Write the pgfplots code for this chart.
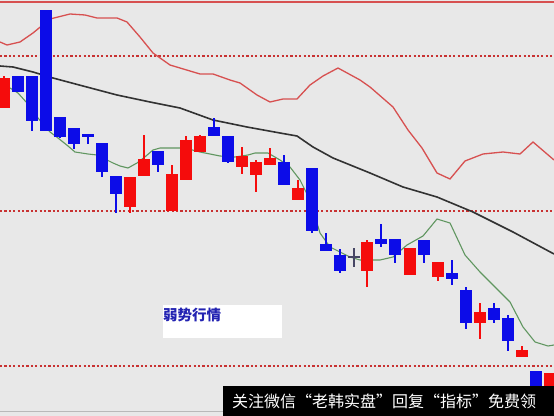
\documentclass[border=0pt]{standalone}
\usepackage{pgfplots}
\pgfplotsset{compat=1.18}
\usepackage{pgfplotstable}
\usepackage{fontspec}
\newfontfamily\cjk{Noto Sans CJK SC}

\definecolor{bgcol}{RGB}{232,232,232}
\definecolor{candred}{RGB}{245,12,12}
\definecolor{candblue}{RGB}{12,12,232}
\definecolor{dojicol}{RGB}{70,70,100}
\definecolor{maGreen}{RGB}{96,150,96}
\definecolor{maBlack}{RGB}{50,50,50}
\definecolor{bandRed}{RGB}{215,80,80}
\definecolor{gridRed}{RGB}{200,50,50}
\definecolor{labelBlue}{RGB}{35,35,178}

% candles in screen units: top/bot = body edges, hi/lo = wick ends
\pgfplotstableread{
x   top bot hi  lo
4   78  108 76  108
130 177 207 177 213
144 159 176 135 176
172 174 211 165 211
186 140 180 136 180
200 136 152 135 152
242 156 167 147 174
256 162 175 160 192
270 158 165 148 165
298 188 200 180 200
367 242 271 240 287
410 248 275 248 275
438 262 277 262 281
480 312 323 303 339
522 350 357 346 357
550 373 398 373 398
}\redcandles

\pgfplotstableread{
x   top bot hi  lo
18  76  92  76  92
32  76  121 76  131
46  10  131 10  131
60  117 137 117 138
74  128 144 128 149
88  134 137 134 144
102 143 172 143 177
116 176 194 176 213
158 151 165 151 172
214 127 136 118 136
228 136 162 136 163
284 162 185 155 185
312 168 231 168 233
326 244 251 233 251
340 255 271 249 273
381 239 244 224 247
395 239 255 239 263
424 240 255 240 263
452 273 279 260 285
466 290 323 287 329
494 308 320 303 323
508 318 341 315 351
536 371 398 371 398
}\bluecandles

\pgfplotstableread{
x   top bot hi  lo
354 256 258 248 267
}\dojicandles

\pgfplotsset{
  body/.style={draw=none, mark=none, forget plot,
    error bars/.cd, y dir=both, y explicit, error mark=none,
    error bar style={line width=11.5bp, draw=#1, line cap=butt}},
  wick/.style={draw=none, mark=none, forget plot,
    error bars/.cd, y dir=both, y explicit, error mark=none,
    error bar style={line width=1.4bp, draw=#1, line cap=butt}},
}

\begin{document}
\begin{tikzpicture}
\begin{axis}[
  width=554bp, height=416bp, scale only axis,
  xmin=0, xmax=554, ymin=0, ymax=416, y dir=reverse,
  axis line style={draw=none},
  axis background/.style={fill=bgcol},
  xtick=\empty, ytick=\empty,
  clip=true,
]
% dashed reference levels
\foreach \lv in {56,211,366}{
  \edef\temp{\noexpand\draw[gridRed, line width=1.1bp, dash pattern=on 2.2bp off 2.2bp]
    (axis cs:0,\lv) -- (axis cs:554,\lv);}\temp
}
% upper band
\addplot[bandRed, line width=1.3bp] coordinates {
(0,42)(7,45)(20,42)(33,33)(50,19)(70,14)(85,15)(97,18)(117,18)(127,22)
(140,37)(153,53)(170,65)(180,68)(200,74)(213,74)(230,80)(240,83)(257,95)
(270,102)(283,99)(297,99)(310,85)(323,76)(338,68)(360,80)(370,87)(393,107)
(408,130)(422,148)(437,173)(450,179)(465,161)(483,154)(503,152)(520,154)
(533,142)(554,160)};
% long moving average
\addplot[maBlack, line width=1.6bp] coordinates {
(0,66)(13,67)(33,72)(53,78)(83,86)(117,95)(150,102)(180,108)(213,120)
(247,127)(280,133)(297,136)(313,147)(333,158)(370,173)(403,187)(437,197)
(473,212)(513,232)(554,254)};
% short moving average
\addplot[maGreen, line width=1.1bp] coordinates {
(0,86)(10,88)(18,93)(27,103)(38,118)(50,132)(58,138)(68,146)(75,152)(88,154)
(97,155)(105,159)(113,163)(120,166)(128,168)(137,163)(146,156)(153,150)
(160,148)(172,148)(185,148)(200,152)(220,156)(235,157)(248,155)(255,153)
(268,153)(280,160)(290,167)(300,180)(310,200)(320,233)(330,247)(340,252)
(350,257)(360,260)(380,260)(393,257)(407,245)(423,236)(437,219)(450,223)
(465,255)(480,272)(495,287)(510,302)(523,327)(535,342)(548,346)(554,345)};

% wicks
\addplot[wick=candred] table[x=x, y expr={(\thisrow{hi}+\thisrow{lo})/2},
  y error expr={(\thisrow{lo}-\thisrow{hi})/2}] \redcandles;
\addplot[wick=candblue] table[x=x, y expr={(\thisrow{hi}+\thisrow{lo})/2},
  y error expr={(\thisrow{lo}-\thisrow{hi})/2}] \bluecandles;
\addplot[wick=dojicol] table[x=x, y expr={(\thisrow{hi}+\thisrow{lo})/2},
  y error expr={(\thisrow{lo}-\thisrow{hi})/2}] \dojicandles;
% bodies
\addplot[body=candred] table[x=x, y expr={(\thisrow{top}+\thisrow{bot})/2},
  y error expr={(\thisrow{bot}-\thisrow{top})/2}] \redcandles;
\addplot[body=candblue] table[x=x, y expr={(\thisrow{top}+\thisrow{bot})/2},
  y error expr={(\thisrow{bot}-\thisrow{top})/2}] \bluecandles;
\addplot[body=dojicol] table[x=x, y expr={(\thisrow{top}+\thisrow{bot})/2},
  y error expr={(\thisrow{bot}-\thisrow{top})/2}] \dojicandles;

% frame line at the top
\draw[bandRed, line width=2bp] (axis cs:0,2) -- (axis cs:554,2);
% caption box
\fill[white] (axis cs:163,305) rectangle (axis cs:282,338);
\node[anchor=west, inner sep=0pt, text=labelBlue, font=\cjk\bfseries\fontsize{14.5bp}{16bp}\selectfont]
  at (axis cs:163,315) {弱势行情};
% footer strip
\draw[gray!55, line width=0.8bp] (axis cs:0,411) -- (axis cs:223,411);
\fill[black] (axis cs:223,386) rectangle (axis cs:554,416);
\node[anchor=west, inner sep=0pt, text=white, font=\cjk\fontsize{16bp}{18bp}\selectfont]
  at (axis cs:232,401) {关注微信“老韩实盘”回复“指标”免费领};
\end{axis}
\end{tikzpicture}
\end{document}
